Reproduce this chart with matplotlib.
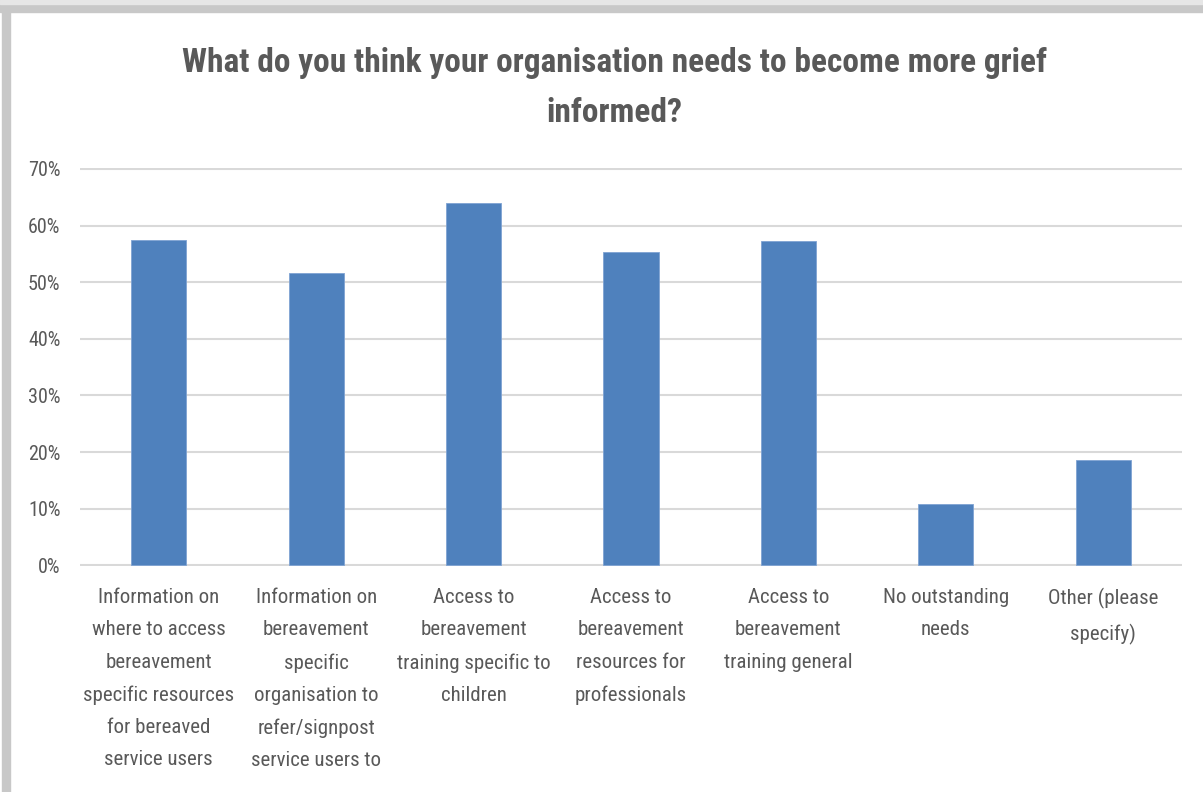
import matplotlib
matplotlib.use('Agg')
import matplotlib.pyplot as plt
from matplotlib.patches import Rectangle
from matplotlib.ticker import FuncFormatter, MultipleLocator

categories = [
    'Information on\nwhere to access\nbereavement\nspecific resources\nfor bereaved\nservice users',
    'Information on\nbereavement\nspecific\norganisation to\nrefer/signpost\nservice users to',
    'Access to\nbereavement\ntraining specific to\nchildren',
    'Access to\nbereavement\nresources for\nprofessionals',
    'Access to\nbereavement\ntraining general',
    'No outstanding\nneeds',
    'Other (please\nspecify)',
]
values = [0.574, 0.517, 0.639, 0.554, 0.573, 0.109, 0.186]
title = 'What do you think your organisation needs to become more grief\ninformed?'

plt.rcParams['font.family'] = ['Roboto Condensed', 'Roboto', 'DejaVu Sans']
text_col = '#595959'

fig = plt.figure(figsize=(12.03, 7.92), dpi=100)
ax = fig.add_axes([80 / 1203, 1 - 566 / 792, 1102 / 1203, 398 / 792])

x = range(len(categories))
ax.bar(x, values, width=0.35, color='#4f81bd', edgecolor='#7fa3d3', linewidth=0.6, zorder=3)

ax.set_xlim(-0.5, len(categories) - 0.5)
ax.set_ylim(-0.001, 0.7015)
ax.yaxis.set_major_locator(MultipleLocator(0.1))
ax.yaxis.set_major_formatter(FuncFormatter(lambda v, _: f'{abs(v):.0%}'))
ax.grid(axis='y', color='#d9d9d9', linewidth=1.5, zorder=0)
for s in ax.spines.values():
    s.set_visible(False)
ax.tick_params(length=0, colors=text_col, labelsize=14.5)
ax.tick_params(axis='y', pad=14)
ax.tick_params(axis='x', pad=16)
ax.set_xticks(list(x))
ax.set_xticklabels(categories, fontsize=15, linespacing=1.88, va='top')

fig.text(0.511, 1 - 88 / 792, title, ha='center', va='center', fontsize=24,
         fontweight='bold', color=text_col, linespacing=1.72)

# grey frame shadow along top and left edge
fig.patches.append(Rectangle((0, 1 - 12 / 792), 1, 12 / 792, transform=fig.transFigure,
                             color='#c8c8c8', zorder=0))
fig.patches.append(Rectangle((0, 1 - 4 / 792), 1, 4 / 792, transform=fig.transFigure,
                             color='#e6e6e6', zorder=1))
fig.patches.append(Rectangle((2 / 1203, 0), 8 / 1203, 1, transform=fig.transFigure,
                             color='#c8c8c8', zorder=0))

fig.savefig('out.png', dpi=100)
